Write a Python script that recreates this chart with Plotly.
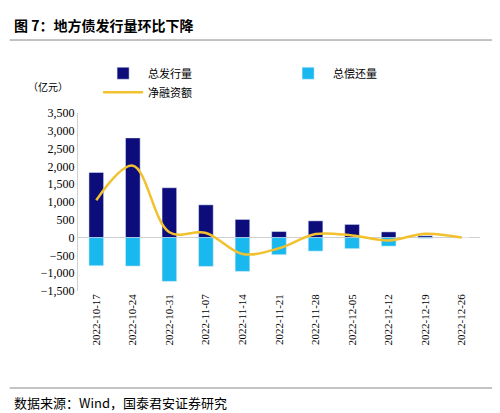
import plotly.graph_objects as go

dates = ["2022-10-17", "2022-10-24", "2022-10-31", "2022-11-07", "2022-11-14", "2022-11-21",
         "2022-11-28", "2022-12-05", "2022-12-12", "2022-12-19", "2022-12-26"]
issuance = [1830, 2800, 1400, 920, 510, 170, 470, 370, 160, 50, 0]
repayment = [-790, -800, -1230, -810, -950, -480, -380, -310, -240, -20, 0]
net_financing = [1050, 2020, 150, 130, -460, -300, 100, 60, -80, 110, 0]
y_ticks = [-1500, -1000, -500, 0, 500, 1000, 1500, 2000, 2500, 3000, 3500]

font = "Noto Sans CJK SC"

fig = go.Figure()
fig.add_bar(x=dates, y=issuance, name="总发行量", marker_color="#0c0c7a", width=0.4)
fig.add_bar(x=dates, y=repayment, name="总偿还量", marker_color="#19b8ee", width=0.4)
fig.add_scatter(x=dates, y=net_financing, name="净融资额", mode="lines",
                line=dict(color="#f2c12e", width=2.5, shape="spline", smoothing=1.0))

fig.update_layout(
    width=500, height=413,
    barmode="relative",
    plot_bgcolor="white", paper_bgcolor="white",
    font=dict(family=font, size=11, color="black"),
    margin=dict(l=70, r=28, t=105, b=130),
    showlegend=True,
    legend=dict(orientation="h", x=0.05, y=1.17, xanchor="left", yanchor="middle",
                font=dict(size=11), itemwidth=40, entrywidth=130),
    xaxis=dict(type="category", tickangle=-90, showline=False, ticks="",
               tickfont=dict(family="Liberation Serif", size=11)),
    yaxis=dict(range=[-1500, 3500], tickvals=y_ticks, tickformat=",", showgrid=False,
               zeroline=True, zerolinecolor="#d0d0d0", zerolinewidth=1,
               showline=True, linecolor="#d0d0d0", tickfont=dict(family="Liberation Serif", size=12)),
    annotations=[
        dict(text="<b>图 7：地方债发行量环比下降</b>", x=0, y=1, xref="paper", yref="paper",
             xanchor="left", yanchor="top", showarrow=False, font=dict(size=14), yshift=100, xshift=-66),
        dict(text="（亿元）", x=0, y=1, xref="paper", yref="paper", xanchor="right", yanchor="bottom",
             showarrow=False, font=dict(size=10), yshift=17, xshift=-8),
        dict(text="数据来源：Wind，国泰君安证券研究", x=0, y=0, xref="paper", yref="paper",
             xanchor="left", yanchor="top", showarrow=False, font=dict(size=13), yshift=-100, xshift=-66),
    ],
    shapes=[
        dict(type="line", xref="paper", yref="paper", x0=-0.17, x1=1.07, y0=1.41, y1=1.41,
             line=dict(color="#888", width=1)),
        dict(type="line", xref="paper", yref="paper", x0=-0.17, x1=1.07, y0=-0.545, y1=-0.545,
             line=dict(color="#888", width=1)),
    ],
)

fig.write_html("out.html")
